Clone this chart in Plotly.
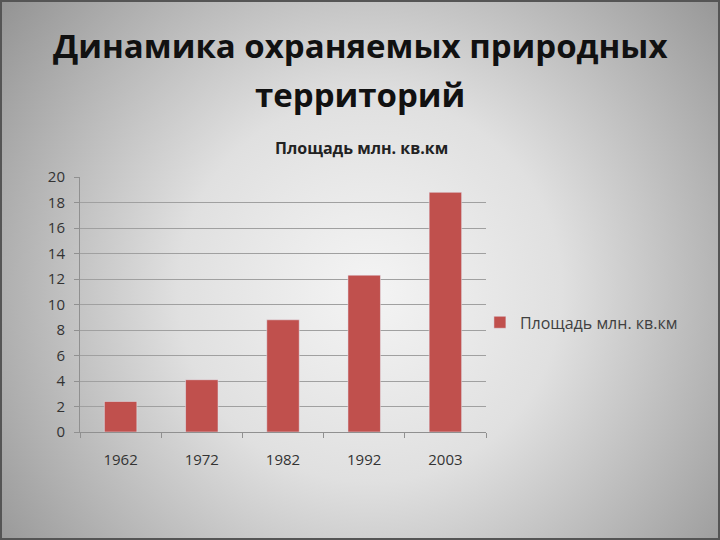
import plotly.graph_objects as go
import base64

years = ["1962", "1972", "1982", "1992", "2003"]
area = [2.4, 4.1, 8.8, 12.3, 18.8]
series_name = "Площадь млн. кв.км"
y_ticks = [0, 2, 4, 6, 8, 10, 12, 14, 16, 18, 20]

svg = """<svg xmlns='http://www.w3.org/2000/svg' width='720' height='540' viewBox='0 0 720 540'>
<defs><radialGradient id='g' cx='370' cy='290' r='480' gradientUnits='userSpaceOnUse'>
<stop offset='0' stop-color='#f4f4f4'/><stop offset='0.4' stop-color='#e0e0e0'/>
<stop offset='1' stop-color='#909090'/></radialGradient></defs>
<rect width='720' height='540' fill='url(#g)'/>
<rect x='1' y='1' width='718' height='538' fill='none' stroke='#555555' stroke-width='2'/></svg>"""
bg_src = "data:image/svg+xml;base64," + base64.b64encode(svg.encode()).decode()

fig = go.Figure()
fig.add_trace(go.Bar(x=years, y=area, name=series_name, marker_color="#c0504d",
                     width=0.4, showlegend=True))

fig.update_layout(
    width=720, height=540,
    margin=dict(l=80, r=234, t=177, b=108),
    paper_bgcolor="rgba(0,0,0,0)", plot_bgcolor="rgba(0,0,0,0)",
    images=[dict(source=bg_src, xref="paper", yref="paper", x=-80/406, y=1+177/255,
                 sizex=720/406, sizey=540/255, xanchor="left", yanchor="top",
                 sizing="stretch", layer="below")],
    font=dict(family="Open Sans", color="#333333"),
    showlegend=True,
    legend=dict(x=0.985, y=0.43, xanchor="left", yanchor="middle",
                font=dict(size=16, color="#404040"), bgcolor="rgba(0,0,0,0)",
                itemwidth=30),
    annotations=[
        dict(text="<b>Динамика охраняемых природных</b>",
             xref="paper", yref="paper", x=280/406, y=1+(177-45)/255,
             xanchor="center", yanchor="middle", showarrow=False,
             font=dict(size=33, color="#111111", family="Open Sans")),
        dict(text="<b>территорий</b>",
             xref="paper", yref="paper", x=280/406, y=1+(177-94)/255,
             xanchor="center", yanchor="middle", showarrow=False,
             font=dict(size=33, color="#111111", family="Open Sans")),
        dict(text="<b>Площадь млн. кв.км</b>", xref="paper", yref="paper",
             x=281/406, y=1+(177-148)/255, xanchor="center", yanchor="middle",
             showarrow=False, font=dict(size=16, color="#222222", family="Open Sans")),
    ],
    xaxis=dict(showgrid=False, showline=True, linecolor="#909090", linewidth=1,
               ticks="outside", ticklen=5, tickcolor="#909090",
               tickson="boundaries", ticklabelstandoff=14,
               tickfont=dict(size=15, color="#333333")),
    yaxis=dict(range=[0, 20], tickvals=y_ticks, showgrid=True, gridcolor="#a0a0a0",
               gridwidth=1, showline=True, linecolor="#909090", ticks="outside",
               ticklen=5, tickcolor="#909090", zeroline=False, ticklabelstandoff=6,
               tickfont=dict(size=15, color="#333333")),
)

fig.write_html("out.html", config={"displayModeBar": False},
               post_script="document.body.style.margin='0';")
